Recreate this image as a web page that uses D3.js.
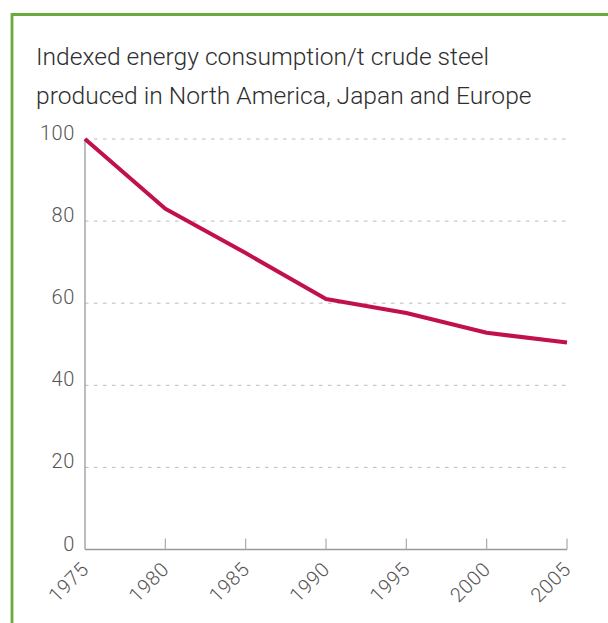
<!DOCTYPE html>
<html lang="en">
<head>
<meta charset="UTF-8">
<script src="https://cdn.jsdelivr.net/npm/d3@7"></script>
<title>Energy consumption</title>
<style>
  body { margin: 0; background: #fff; }
  svg text { font-family: Roboto, "Liberation Sans", Arial, sans-serif; font-weight: 300; }
  .title { font-size: 24.6px; fill: #2e2e2e; }
  .tick-label { font-size: 20px; fill: #555; letter-spacing: 0.6px; }
  .grid line { stroke: #bbb; stroke-dasharray: 3.5,5.5; }
</style>
</head>
<body>
<div id="chart"></div>
<script>
  var years = [1975, 1980, 1985, 1990, 1995, 2000, 2005];
  var energyIndex = [100, 83, 72.2, 61, 57.6, 52.8, 50.4];
  var yTicks = [0, 20, 40, 60, 80, 100];
  var titleLines = ["Indexed energy consumption/t crude steel",
                    "produced in North America, Japan and Europe"];

  const width = 608, height = 623;
  const margin = {top: 139, right: 41, bottom: 74, left: 85};

  const svg = d3.select("#chart").append("svg")
      .attr("width", width)
      .attr("height", height);

  // green frame, runs off the right and bottom edge
  svg.append("path")
     .attr("d", "M12,640 L12,14.5 L640,14.5")
     .attr("fill", "none")
     .attr("stroke", "#6aab3c")
     .attr("stroke-width", 2.8);

  svg.selectAll("text.title")
     .data(titleLines)
     .enter().append("text")
     .attr("class", "title")
     .attr("x", 36)
     .attr("y", function(d, i) { return 65 + i * 39; })
     .text(function(d) { return d; });

  const x = d3.scaleLinear()
      .domain([1975, 2005])
      .range([margin.left, width - margin.right]);
  const y = d3.scaleLinear()
      .domain([0, 100])
      .range([549.5, margin.top]);

  // dashed grid
  svg.append("g").attr("class", "grid")
     .selectAll("line")
     .data(yTicks.filter(function(d) { return d > 0; }))
     .enter().append("line")
     .attr("x1", x(1975)).attr("x2", x(2005))
     .attr("y1", function(d) { return y(d); })
     .attr("y2", function(d) { return y(d); });

  // axes
  svg.append("line")
     .attr("x1", x(1975)).attr("x2", x(1975))
     .attr("y1", y(100)).attr("y2", y(0))
     .attr("stroke", "#999").attr("stroke-width", 1.3);
  svg.append("line")
     .attr("x1", x(1975)).attr("x2", x(2005))
     .attr("y1", y(0)).attr("y2", y(0))
     .attr("stroke", "#999").attr("stroke-width", 1.3);

  svg.selectAll("line.xtick")
     .data(years.slice(1))
     .enter().append("line")
     .attr("class", "xtick")
     .attr("x1", function(d) { return x(d); })
     .attr("x2", function(d) { return x(d); })
     .attr("y1", y(0)).attr("y2", y(0) - 11)
     .attr("stroke", "#aaa").attr("stroke-width", 1.2);

  svg.selectAll("text.ylab")
     .data(yTicks)
     .enter().append("text")
     .attr("class", "tick-label ylab")
     .attr("x", 75)
     .attr("y", function(d) { return y(d) + 1; })
     .attr("text-anchor", "end")
     .text(function(d) { return d; });

  svg.selectAll("text.xlab")
     .data(years)
     .enter().append("text")
     .attr("class", "tick-label xlab")
     .attr("text-anchor", "end")
     .attr("transform", function(d) {
        return "translate(" + (x(d) + 5) + "," + (y(0) + 21) + ") rotate(-45)";
     })
     .text(function(d) { return d; });

  const line = d3.line()
      .x(function(d, i) { return x(years[i]); })
      .y(function(d) { return y(d); });

  svg.append("path")
     .datum(energyIndex)
     .attr("d", line)
     .attr("fill", "none")
     .attr("stroke", "#c2104e")
     .attr("stroke-width", 4)
     .attr("stroke-linejoin", "round");
</script>
</body>
</html>
